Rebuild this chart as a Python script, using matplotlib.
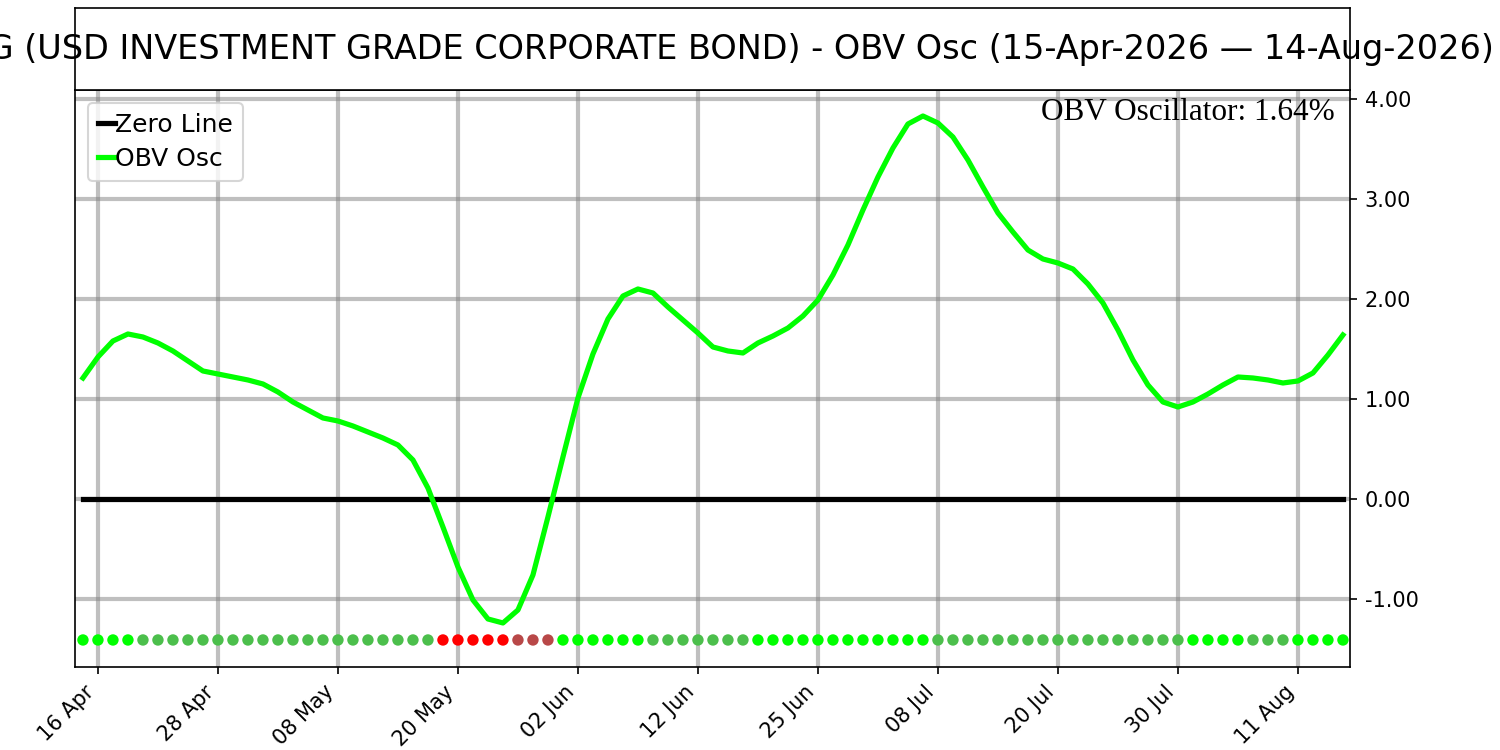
import matplotlib
matplotlib.use("Agg")
import matplotlib.pyplot as plt
import pandas as pd
import numpy as np

plt.rcParams['axes.unicode_minus'] = False

# ---- data ----
title_text = "USIG (USD INVESTMENT GRADE CORPORATE BOND) - OBV Osc (15-Apr-2026 \u2014 14-Aug-2026)"
holidays = ["2026-05-25", "2026-06-19", "2026-07-03"]
dates = [d for d in pd.bdate_range("2026-04-15", "2026-08-14") if d.strftime("%Y-%m-%d") not in holidays]

obv_osc = [1.21, 1.42, 1.58, 1.65, 1.62, 1.56, 1.48, 1.38, 1.28, 1.25,
           1.22, 1.19, 1.15, 1.07, 0.97, 0.89, 0.81, 0.78, 0.73, 0.67,
           0.61, 0.54, 0.39, 0.11, -0.28, -0.68, -1.01, -1.20, -1.24, -1.11,
           -0.76, -0.18, 0.42, 1.01, 1.45, 1.80, 2.03, 2.10, 2.06, 1.92,
           1.79, 1.66, 1.52, 1.48, 1.46, 1.56, 1.63, 1.71, 1.83, 1.99,
           2.24, 2.54, 2.89, 3.22, 3.51, 3.75, 3.83, 3.76, 3.62, 3.39,
           3.12, 2.86, 2.67, 2.49, 2.40, 2.36, 2.30, 2.15, 1.96, 1.69,
           1.39, 1.14, 0.97, 0.92, 0.97, 1.05, 1.14, 1.22, 1.21, 1.19,
           1.16, 1.18, 1.26, 1.44, 1.64]

# signal state per day: B = strong up, M = up, R = strong down, D = down
signal = (["B"] * 4 + ["M"] * 20 + ["R"] * 5 + ["D"] * 3 + ["B"] * 6 + ["M"] * 7
          + ["B"] * 12 + ["M"] * 17 + ["B"] * 4 + ["M"] * 3 + ["B"] * 4)
signal_colors = {"B": "#00ff00", "M": "#4cbf4c", "R": "#ff0000", "D": "#b84848"}

last_value_text = "OBV Oscillator: 1.64%"
yticks = [-1, 0, 1, 2, 3, 4]
tick_step = 8
tick_start = 1

# ---- figure ----
fig = plt.figure(figsize=(10, 5), dpi=150)
ax = fig.add_axes([0.05, 0.1107, 0.85, 0.7693])
tax = fig.add_axes([0.05, 0.88, 0.85, 0.109])

x = np.arange(len(obv_osc))
ax.plot(x, np.zeros(len(x)), color="black", lw=2.5, label="Zero Line", zorder=3)
ax.plot(x, obv_osc, color="#00ff00", lw=2.5, label="OBV Osc", zorder=4)
dot_y = -1.41
ax.scatter(x, [dot_y] * len(x), c=[signal_colors[s] for s in signal], s=30, zorder=5, linewidths=0)

ax.set_xlim(-0.53, len(x) - 1 + 0.47)
ax.set_ylim(-1.68, 4.09)
ax.yaxis.tick_right()
ax.set_yticks(yticks)
ax.set_yticklabels([f"{v:.2f}" for v in yticks], fontsize=10)
tick_idx = list(range(tick_start, len(x), tick_step))
ax.set_xticks(tick_idx)
ax.set_xticklabels([dates[i].strftime("%d %b") for i in tick_idx], rotation=45, ha="right",
                   fontsize=10)
ax.grid(True, color="gray", alpha=0.5, lw=2)
ax.set_axisbelow(True)
ax.legend(loc="upper left", fontsize=12, handlelength=0.7, handletextpad=0.0,
          borderpad=0.4, labelspacing=0.4, borderaxespad=0.5)
ax.text(0.988, 0.986, last_value_text, transform=ax.transAxes, ha="right", va="top",
        fontsize=15, family="Liberation Serif")

tax.set_xticks([])
tax.set_yticks([])
tax.text(0.5005, 0.5, title_text, ha="center", va="center", fontsize=16.1, transform=tax.transAxes)

fig.savefig("out.png", dpi=150)
